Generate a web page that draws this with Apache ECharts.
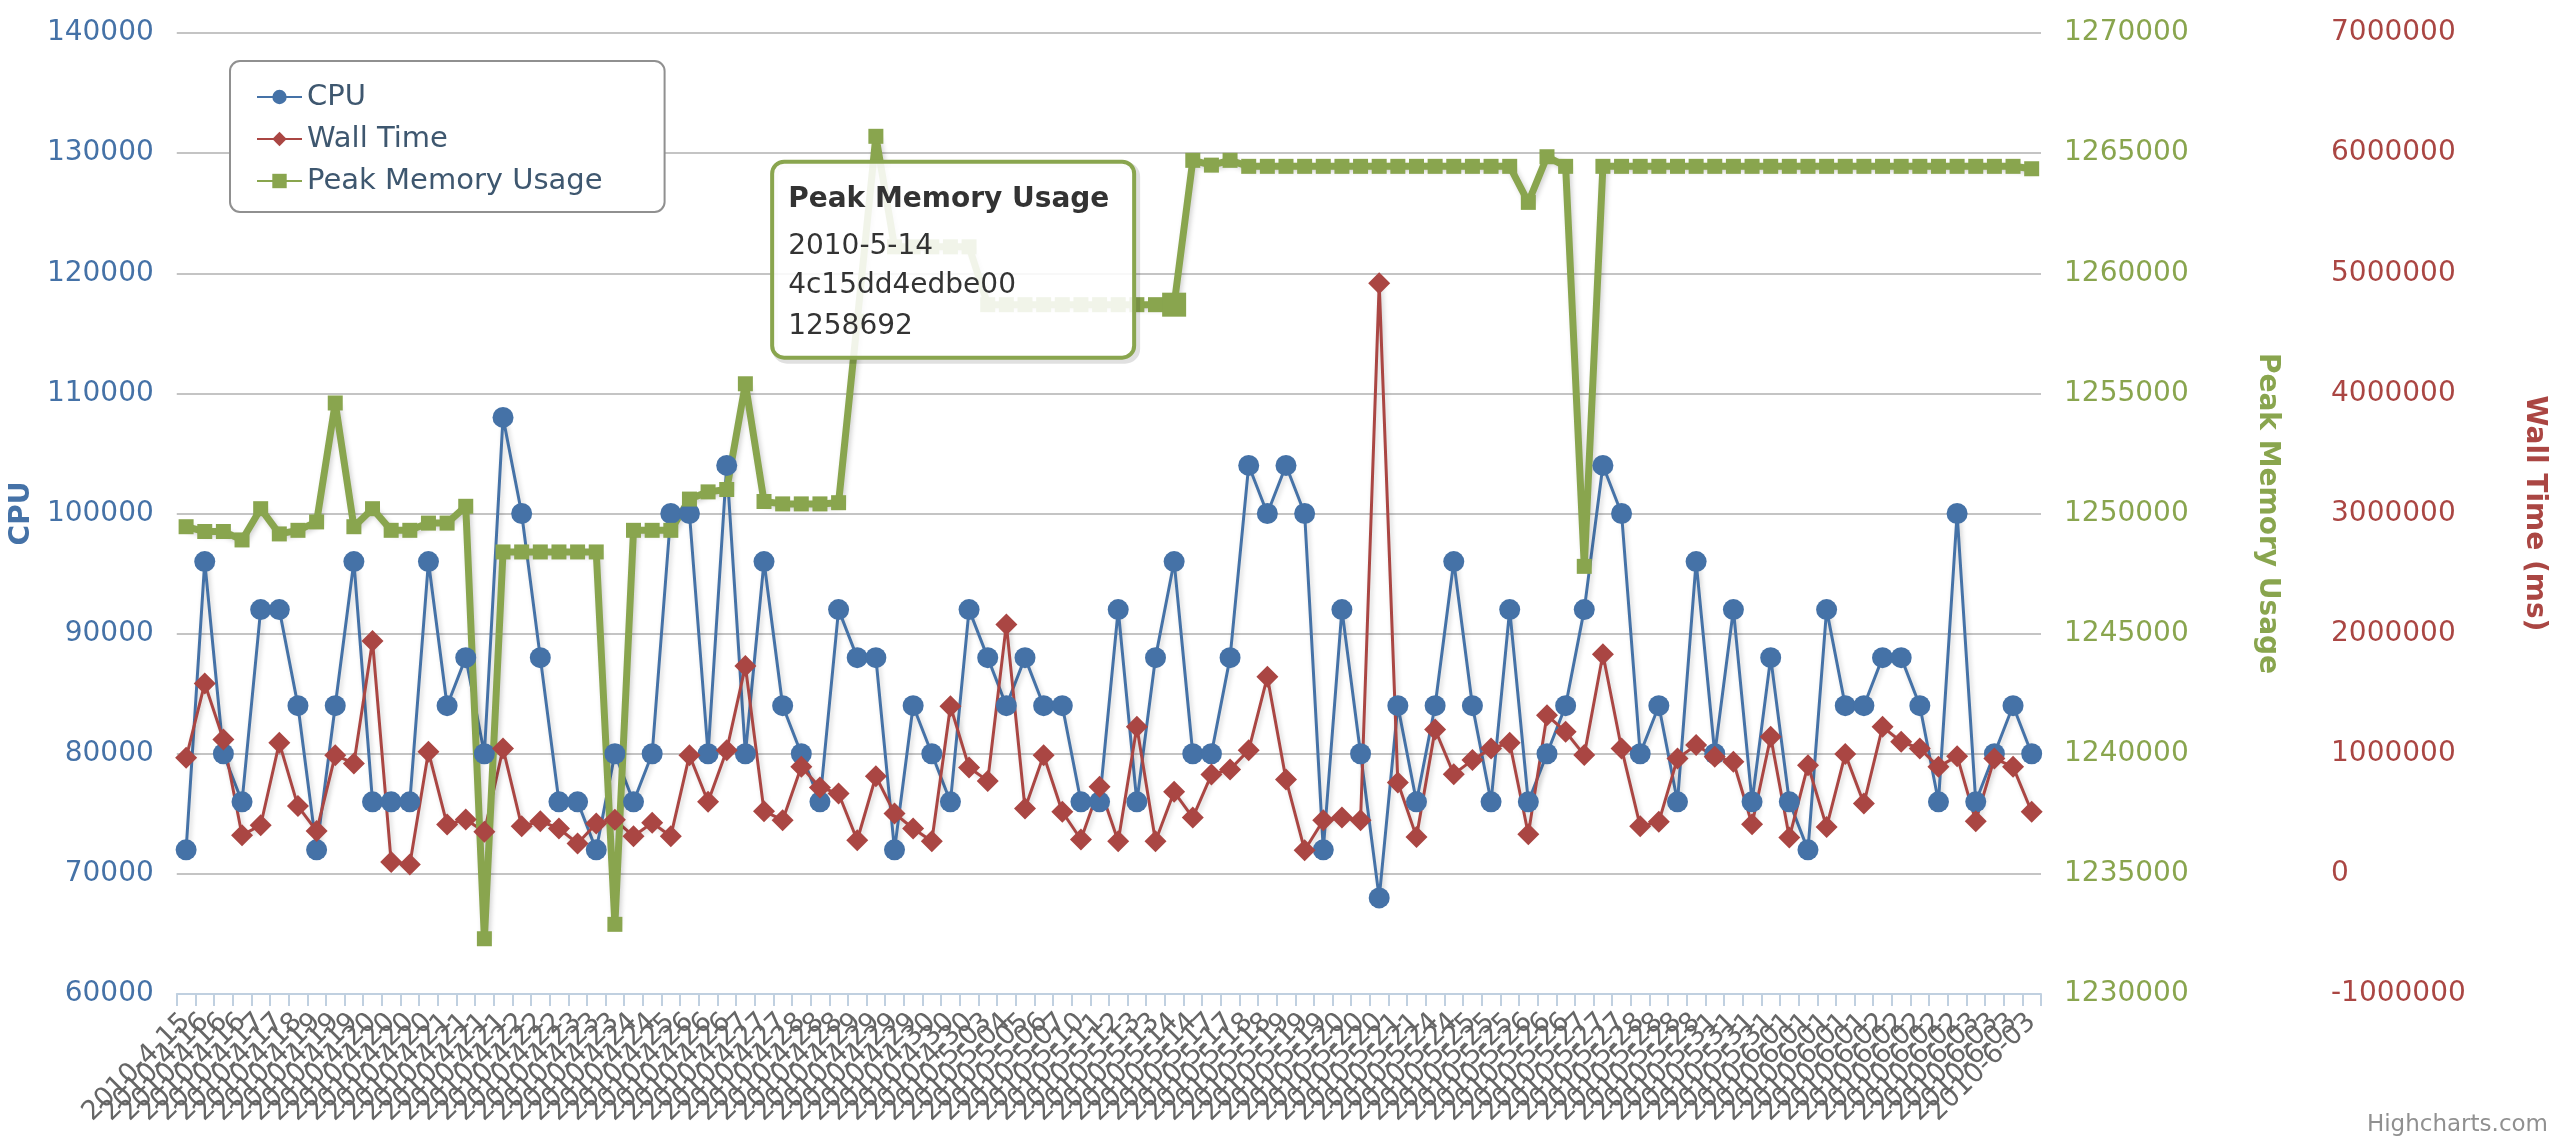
<!DOCTYPE html>
<html>
<head>
<meta charset="utf-8">
<title>CPU / Wall Time / Peak Memory Usage</title>
<script src="https://cdn.jsdelivr.net/npm/echarts@6/dist/echarts.min.js"></script>
<style>
  html, body { margin: 0; padding: 0; background: #fff; }
  #chart { width: 2556px; height: 1147px; }
</style>
</head>
<body>
<div id="chart"></div>
<script>
// build dates (one per run, several runs per day)
const buildDates = [
  '2010-4-15', '2010-4-16', '2010-4-16', '2010-4-16', '2010-4-17', '2010-4-17', '2010-4-18', '2010-4-19', '2010-4-19', '2010-4-19',
  '2010-4-20', '2010-4-20', '2010-4-20', '2010-4-20', '2010-4-21', '2010-4-21', '2010-4-21', '2010-4-21', '2010-4-22', '2010-4-22',
  '2010-4-22', '2010-4-23', '2010-4-23', '2010-4-23', '2010-4-24', '2010-4-24', '2010-4-25', '2010-4-26', '2010-4-26', '2010-4-26',
  '2010-4-27', '2010-4-27', '2010-4-27', '2010-4-28', '2010-4-28', '2010-4-28', '2010-4-29', '2010-4-29', '2010-4-29', '2010-4-29',
  '2010-4-30', '2010-4-30', '2010-4-30', '2010-5-03', '2010-5-04', '2010-5-05', '2010-5-06', '2010-5-07', '2010-5-10', '2010-5-11',
  '2010-5-12', '2010-5-13', '2010-5-13', '2010-5-14', '2010-5-14', '2010-5-17', '2010-5-17', '2010-5-18', '2010-5-18', '2010-5-19',
  '2010-5-19', '2010-5-19', '2010-5-20', '2010-5-20', '2010-5-20', '2010-5-21', '2010-5-21', '2010-5-24', '2010-5-24', '2010-5-25',
  '2010-5-25', '2010-5-25', '2010-5-26', '2010-5-26', '2010-5-26', '2010-5-27', '2010-5-27', '2010-5-27', '2010-5-28', '2010-5-28',
  '2010-5-28', '2010-5-28', '2010-5-31', '2010-5-31', '2010-5-31', '2010-5-31', '2010-6-01', '2010-6-01', '2010-6-01', '2010-6-01',
  '2010-6-01', '2010-6-02', '2010-6-02', '2010-6-02', '2010-6-02', '2010-6-02', '2010-6-03', '2010-6-03', '2010-6-03', '2010-6-03'
];

const cpuValues = [
  72000, 96000, 80000, 76000, 92000, 92000, 84000, 72000, 84000, 96000,
  76000, 76000, 76000, 96000, 84000, 88000, 80000, 108000, 100000, 88000,
  76000, 76000, 72000, 80000, 76000, 80000, 100000, 100000, 80000, 104000,
  80000, 96000, 84000, 80000, 76000, 92000, 88000, 88000, 72000, 84000,
  80000, 76000, 92000, 88000, 84000, 88000, 84000, 84000, 76000, 76000,
  92000, 76000, 88000, 96000, 80000, 80000, 88000, 104000, 100000, 104000,
  100000, 72000, 92000, 80000, 68000, 84000, 76000, 84000, 96000, 84000,
  76000, 92000, 76000, 80000, 84000, 92000, 104000, 100000, 80000, 84000,
  76000, 96000, 80000, 92000, 76000, 88000, 76000, 72000, 92000, 84000,
  84000, 88000, 88000, 84000, 76000, 100000, 76000, 80000, 84000, 80000
];

// ms
const wallTimeValues = [
  966000, 1585000, 1119000, 322000, 405000, 1091000, 564000, 356000, 988000, 919000,
  1938000, 98000, 79000, 1016000, 411000, 453000, 350000, 1044000, 397000, 438000,
  378000, 253000, 419000, 450000, 314000, 425000, 314000, 988000, 600000, 1030000,
  1730000, 522000, 447000, 891000, 720000, 669000, 280000, 813000, 503000, 378000,
  272000, 1396000, 886000, 774000, 2077000, 545000, 988000, 517000, 286000, 725000,
  272000, 1224000, 272000, 683000, 469000, 827000, 869000, 1030000, 1640000, 786000,
  197000, 447000, 469000, 447000, 4916000, 760000, 308000, 1202000, 830000, 947000,
  1044000, 1091000, 330000, 1321000, 1183000, 989000, 1829000, 1044000, 397000, 433000,
  961000, 1072000, 975000, 933000, 413000, 1141000, 302000, 905000, 391000, 997000,
  586000, 1224000, 1100000, 1044000, 891000, 980000, 439000, 961000, 891000, 517000
];

const peakMemoryValues = [
  1249450, 1249250, 1249250, 1248900, 1250200, 1249150, 1249300, 1249650, 1254600, 1249450,
  1250200, 1249300, 1249300, 1249600, 1249600, 1250300, 1232300, 1248400, 1248400, 1248400,
  1248400, 1248400, 1248400, 1232900, 1249300, 1249300, 1249300, 1250600, 1250900, 1251000,
  1255400, 1250500, 1250400, 1250400, 1250400, 1250450, 1258000, 1265700, 1261100, 1261100,
  1261100, 1261100, 1261100, 1258692, 1258692, 1258692, 1258692, 1258692, 1258692, 1258692,
  1258692, 1258692, 1258692, 1258692, 1264700, 1264500, 1264700, 1264450, 1264450, 1264450,
  1264450, 1264450, 1264450, 1264450, 1264450, 1264450, 1264450, 1264450, 1264450, 1264450,
  1264450, 1264450, 1262950, 1264850, 1264450, 1247800, 1264450, 1264450, 1264450, 1264450,
  1264450, 1264450, 1264450, 1264450, 1264450, 1264450, 1264450, 1264450, 1264450, 1264450,
  1264450, 1264450, 1264450, 1264450, 1264450, 1264450, 1264450, 1264450, 1264450, 1264350
];

// axis ranges (tick labels)
const cpuAxis = { min: 60000, max: 140000, interval: 10000 };
const memoryAxis = { min: 1230000, max: 1270000, interval: 5000 };
const wallAxis = { min: -1000000, max: 7000000, interval: 1000000 };

// point under the mouse in the screenshot
const hoverIndex = 53;
const hoverRevision = '4c15dd4edbe00';

const FONT = '"DejaVu Sans", Verdana, sans-serif';
const BLUE = '#4572A7', RED = '#AA4643', GREEN = '#89A54E';

const lineShadow = {
  shadowColor: 'rgba(0,0,0,0.18)',
  shadowBlur: 5,
  shadowOffsetX: 2,
  shadowOffsetY: 2
};

const chart = echarts.init(document.getElementById('chart'));

const plainNumber = v => String(v);

const option = {
  animation: false,
  backgroundColor: '#fff',
  textStyle: { fontFamily: FONT },
  grid: { left: 175, right: 513, top: 33, bottom: 153, containLabel: false },
  legend: {
    orient: 'vertical',
    left: 230,
    top: 61,
    data: ['CPU', 'Wall Time', 'Peak Memory Usage'],
    itemWidth: 45,
    itemHeight: 18,
    itemGap: 12,
    padding: [21, 62, 16, 26],
    borderColor: '#909090',
    borderWidth: 2,
    borderRadius: 10,
    backgroundColor: '#fff',
    textStyle: { fontFamily: FONT, fontSize: 29, color: '#3E576F', lineHeight: 30 }
  },
  xAxis: {
    type: 'category',
    data: buildDates,
    boundaryGap: true,
    axisLine: { onZero: false, lineStyle: { color: '#C0D0E0', width: 2 } },
    axisTick: { show: true, interval: 0, length: 12, lineStyle: { color: '#C0D0E0', width: 2 } },
    axisLabel: { interval: 0, rotate: 45, fontSize: 27, color: '#666', margin: 24, fontFamily: FONT },
    splitLine: { show: false }
  },
  yAxis: [
    {
      type: 'value',
      position: 'left',
      min: cpuAxis.min, max: cpuAxis.max, interval: cpuAxis.interval,
      name: 'CPU',
      nameLocation: 'middle',
      nameRotate: 90,
      nameGap: 120,
      nameTextStyle: { color: BLUE, fontWeight: 'bold', fontSize: 28, fontFamily: FONT },
      axisLine: { show: false },
      axisTick: { show: false },
      axisLabel: { color: BLUE, fontSize: 28, margin: 23, fontFamily: FONT, formatter: plainNumber },
      splitLine: { show: true, lineStyle: { color: '#C4C4C4', width: 2 } }
    },
    {
      type: 'value',
      position: 'right',
      min: memoryAxis.min, max: memoryAxis.max, interval: memoryAxis.interval,
      name: 'Peak Memory Usage',
      nameLocation: 'middle',
      nameRotate: -90,
      nameGap: 212,
      nameTextStyle: { color: GREEN, fontWeight: 'bold', fontSize: 28, fontFamily: FONT },
      axisLine: { show: false },
      axisTick: { show: false },
      axisLabel: { color: GREEN, fontSize: 28, margin: 23, fontFamily: FONT, formatter: plainNumber },
      splitLine: { show: false }
    },
    {
      type: 'value',
      position: 'right',
      offset: 267,
      min: wallAxis.min, max: wallAxis.max, interval: wallAxis.interval,
      name: 'Wall Time (ms)',
      nameLocation: 'middle',
      nameRotate: -90,
      nameGap: 212,
      nameTextStyle: { color: RED, fontWeight: 'bold', fontSize: 28, fontFamily: FONT },
      axisLine: { show: false },
      axisTick: { show: false },
      axisLabel: { color: RED, fontSize: 28, margin: 23, fontFamily: FONT, formatter: plainNumber },
      splitLine: { show: false }
    }
  ],
  series: [
    {
      name: 'CPU',
      type: 'line',
      yAxisIndex: 0,
      data: cpuValues,
      symbol: 'circle',
      symbolSize: 21,
      showAllSymbol: true,
      itemStyle: { color: BLUE },
      lineStyle: Object.assign({ color: BLUE, width: 3 }, lineShadow)
    },
    {
      name: 'Wall Time',
      type: 'line',
      yAxisIndex: 2,
      data: wallTimeValues,
      symbol: 'diamond',
      symbolSize: 22,
      showAllSymbol: true,
      itemStyle: { color: RED },
      lineStyle: Object.assign({ color: RED, width: 3 }, lineShadow)
    },
    {
      name: 'Peak Memory Usage',
      type: 'line',
      yAxisIndex: 1,
      data: peakMemoryValues.map((v, i) => i === hoverIndex ? { value: v, symbolSize: 24 } : v),
      symbol: 'rect',
      symbolSize: 15,
      showAllSymbol: true,
      itemStyle: { color: GREEN },
      lineStyle: Object.assign({ color: GREEN, width: 7 }, lineShadow)
    }
  ]
};

chart.setOption(option);

// static tooltip next to the hovered Peak Memory point
const [px, py] = chart.convertToPixel({ xAxisIndex: 0, yAxisIndex: 1 }, [hoverIndex, peakMemoryValues[hoverIndex]]);
const boxW = 362, boxH = 196;
const bx = px - 40 - boxW;
const by = py - 143;
const tipLines = [buildDates[hoverIndex], hoverRevision, String(peakMemoryValues[hoverIndex])];

chart.setOption({
  graphic: [
    {
      // soft shadow outline
      type: 'rect',
      z: 99,
      shape: { x: bx + 3, y: by + 3, width: boxW, height: boxH, r: 12 },
      style: { fill: 'none', stroke: 'rgba(0,0,0,0.12)', lineWidth: 6 }
    },
    {
      type: 'rect',
      z: 100,
      shape: { x: bx, y: by, width: boxW, height: boxH, r: 12 },
      style: { fill: 'rgba(255,255,255,0.88)', stroke: GREEN, lineWidth: 4 }
    },
    {
      type: 'text', z: 101, x: bx + 16, y: by + 38,
      style: { text: 'Peak Memory Usage', font: 'bold 28px ' + FONT, fill: '#333', verticalAlign: 'middle' }
    },
    {
      type: 'text', z: 101, x: bx + 16, y: by + 85,
      style: { text: tipLines[0], font: '28px ' + FONT, fill: '#333', verticalAlign: 'middle' }
    },
    {
      type: 'text', z: 101, x: bx + 16, y: by + 124,
      style: { text: tipLines[1], font: '28px ' + FONT, fill: '#333', verticalAlign: 'middle' }
    },
    {
      type: 'text', z: 101, x: bx + 16, y: by + 165,
      style: { text: tipLines[2], font: '28px ' + FONT, fill: '#333', verticalAlign: 'middle' }
    },
    {
      type: 'text', right: 8, bottom: 10,
      style: { text: 'Highcharts.com', font: '23px ' + FONT, fill: '#909090' }
    }
  ]
});

window.addEventListener('resize', () => chart.resize());
</script>
</body>
</html>
